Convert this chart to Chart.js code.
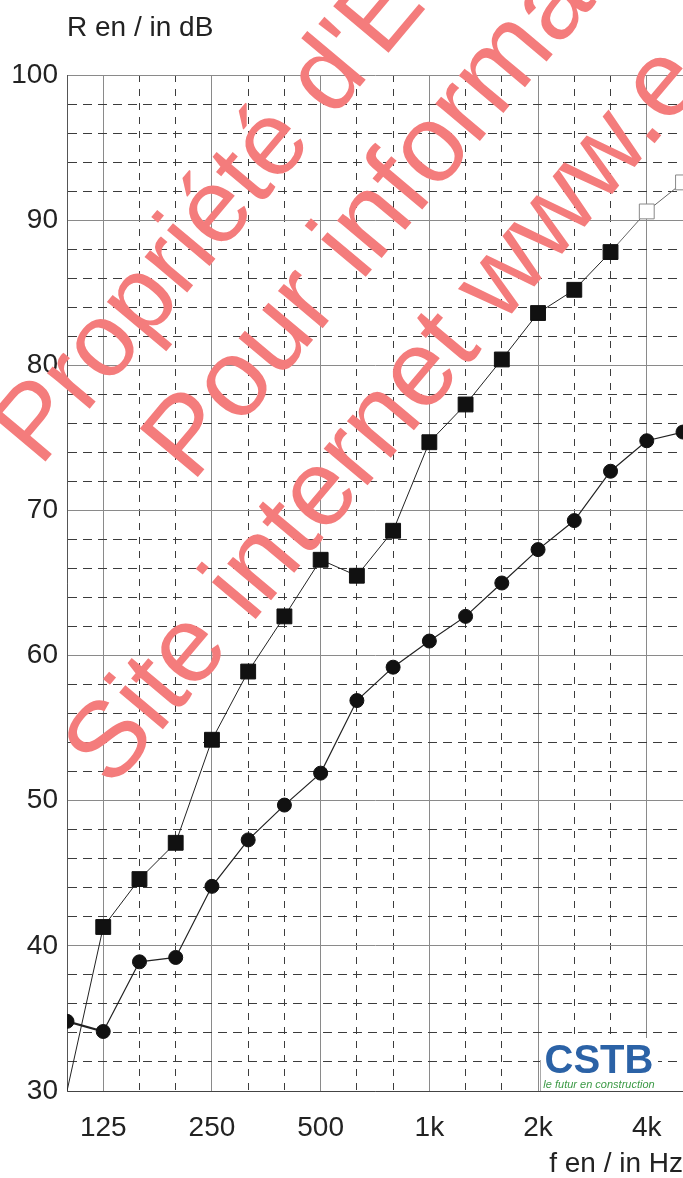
<!DOCTYPE html>
<html>
<head>
<meta charset="utf-8">
<script src="https://cdn.jsdelivr.net/npm/chart.js@4.4.1/dist/chart.umd.min.js"></script>
<style>
  html, body { margin: 0; padding: 0; background: #fff; }
  #wrap { position: relative; width: 683px; height: 1178px; }
</style>
</head>
<body>
<div id="wrap"><canvas id="c" width="683" height="1178"></canvas></div>
<script>
// Third-octave band centre frequencies
const categories = ['100','125','160','200','250','315','400','500','630','800','1k','1.25k','1.6k','2k','2.5k','3.15k','4k','5k'];
// Octave labels shown on the x axis
const tickLabels = ['125','250','500','1k','2k','4k'];
// Series 1 (squares), R in dB
const squaresR = [30.0, 41.3, 44.6, 47.1, 54.2, 58.9, 62.7, 66.6, 65.5, 68.6, 74.7, 77.3, 80.4, 83.6, 85.2, 87.8, 90.6, 92.6];
// Series 2 (circles), R in dB
const circlesR = [34.8, 34.1, 38.9, 39.2, 44.1, 47.3, 49.7, 51.9, 56.9, 59.2, 61.0, 62.7, 65.0, 67.3, 69.3, 72.7, 74.8, 75.4];
// Y axis labelled values
const yLabels = [30, 40, 50, 60, 70, 80, 90, 100];

const FONT = "'Liberation Sans', Arial, sans-serif";

const overlay = {
  id: 'overlay',
  afterDraw(chart) {
    const ctx = chart.ctx;
    // CSTB logo
    ctx.save();
    ctx.fillStyle = '#fff';
    ctx.fillRect(541, 1038, 117, 53);
    ctx.strokeStyle = '#aaa';
    ctx.lineWidth = 1;
    ctx.beginPath();
    ctx.moveTo(540.5, 1060); ctx.lineTo(540.5, 1091);
    ctx.stroke();
    ctx.fillStyle = '#2b62a6';
    ctx.font = "bold 40px " + FONT;
    ctx.textAlign = 'center';
    ctx.textBaseline = 'alphabetic';
    ctx.fillText('CSTB', 599, 1073);
    ctx.fillStyle = '#3c9a46';
    ctx.font = "italic 11px 'Liberation Sans Narrow', " + FONT;
    ctx.fillText('le futur en construction', 599, 1088);
    ctx.restore();

    // red watermark
    ctx.save();
    ctx.fillStyle = '#f47c7c';
    ctx.textAlign = 'left';
    ctx.textBaseline = 'alphabetic';
    const ang = -50 * Math.PI / 180;
    const lines = [
      ['Propriété d\'Ecophon', 40, 468, 105],
      ['Pour information', 192, 484, 110],
      ['Site internet www.e', 112, 790, 108]
    ];
    for (const [t, x, y, s] of lines) {
      ctx.save();
      ctx.font = s + "px " + FONT;
      ctx.translate(x, y);
      ctx.rotate(ang);
      ctx.fillText(t, 0, 0);
      ctx.restore();
    }
    ctx.restore();
  }
};

const isOctaveIdx = i => tickLabels.includes(categories[i]);

new Chart(document.getElementById('c'), {
  type: 'line',
  data: {
    labels: categories,
    datasets: [
      {
        label: 'squares',
        data: squaresR,
        borderColor: '#222',
        borderWidth: 1,
        pointStyle: 'rect',
        pointRadius: ctx => ctx.dataIndex === 0 ? 0 : 10.5,
        pointBackgroundColor: ctx => ctx.dataIndex >= 16 ? '#fff' : '#111',
        pointBorderColor: ctx => ctx.dataIndex >= 16 ? '#888' : '#111',
        pointBorderWidth: 1,
        segment: { borderColor: c => c.p0DataIndex >= 15 ? '#666' : '#222' },
        clip: 0,
        tension: 0
      },
      {
        label: 'circles',
        data: circlesR,
        borderColor: '#222',
        borderWidth: 1.2,
        pointStyle: 'circle',
        pointRadius: 7,
        pointBackgroundColor: '#111',
        pointBorderColor: '#111',
        pointBorderWidth: 1,
        segment: { borderWidth: c => c.p0DataIndex === 0 ? 2.2 : 1.2 },
        clip: 0,
        tension: 0
      }
    ]
  },
  options: {
    responsive: false,
    animation: false,
    devicePixelRatio: 1,
    layout: { autoPadding: false, padding: { top: 0, right: 0, bottom: 0, left: 0 } },
    plugins: {
      legend: { display: false },
      tooltip: { enabled: false },
      title: {
        display: true,
        text: 'R en / in dB',
        align: 'start',
        fullSize: false,
        color: '#222',
        font: { family: FONT, size: 28, weight: 'normal', lineHeight: 1 },
        padding: { top: 14, bottom: 33 }
      }
    },
    scales: {
      x: {
        type: 'category',
        offset: false,
        grid: {
          offset: false,
          drawTicks: false,
          color: c => (c.tick && (isOctaveIdx(c.index) || c.index === 0)) ? '#8a8a8a' : '#3c3c3c',
          lineWidth: 1
        },
        border: {
          display: true,
          color: '#444',
          width: 1,
          dash: c => (c.tick && !(isOctaveIdx(c.index) || c.index === 0)) ? [7, 7] : []
        },
        ticks: {
          autoSkip: false,
          maxRotation: 0,
          minRotation: 0,
          padding: 23,
          color: '#222',
          font: { family: FONT, size: 28, lineHeight: 1 },
          callback: (v, i) => isOctaveIdx(i) ? categories[i] : ''
        },
        title: {
          display: true,
          text: 'f en / in Hz',
          align: 'end',
          color: '#222',
          font: { family: FONT, size: 28, lineHeight: 1 },
          padding: { top: 9, bottom: 0 }
        },
        afterFit: s => { s.height = 87; s.paddingLeft = 0; s.paddingRight = 0; }
      },
      y: {
        type: 'linear',
        min: 30,
        max: 100,
        grid: {
          drawTicks: false,
          color: c => (c.tick && c.tick.value % 10 === 0) ? '#8a8a8a' : '#3c3c3c',
          lineWidth: 1
        },
        border: {
          display: true,
          color: '#555',
          width: 1,
          dash: c => (c.tick && c.tick.value % 10 !== 0) ? [9, 6] : []
        },
        ticks: {
          stepSize: 2,
          autoSkip: false,
          padding: 9,
          color: '#222',
          font: { family: FONT, size: 28, lineHeight: 1 },
          callback: v => yLabels.includes(v) ? String(v) : ''
        },
        afterFit: s => { s.width = 67; }
      }
    }
  },
  plugins: [overlay]
});
</script>
</body>
</html>
